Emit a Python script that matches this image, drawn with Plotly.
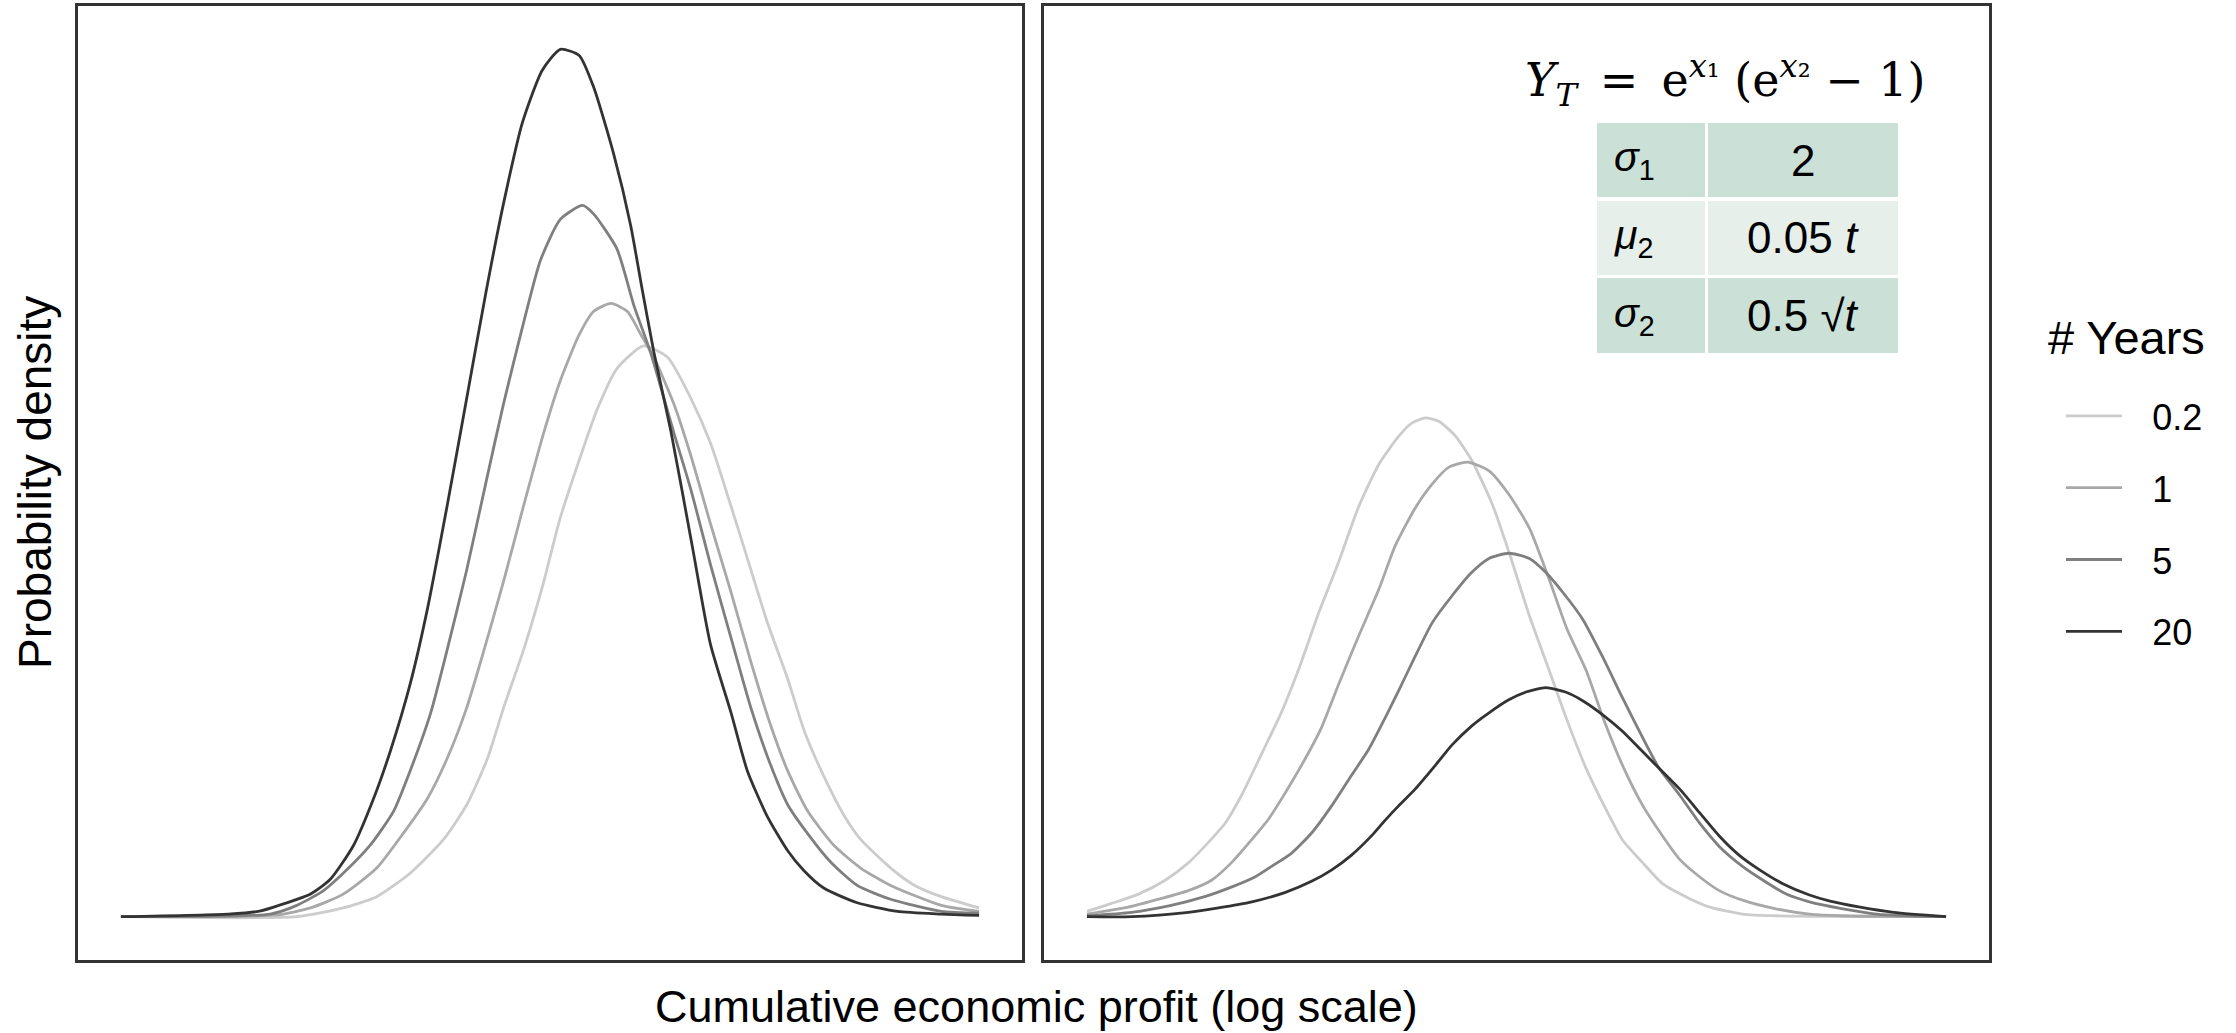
import plotly.graph_objects as go

W, H = 2236, 1033

YEARS = ["0.2", "1", "5", "20"]
COLORS = ["#cccccc", "#a8a8a8", "#7f7f7f", "#333333"]

# ---- Left panel (log-profit position, density) ----
L_X_02 = [0, 20.5, 25.9, 29.8, 33.7, 37.6, 40.3, 42.7, 44.6, 46.9, 49.1, 51.2, 53.6, 55.5, 57.8, 60.9,
          63.7, 66.4, 68.7, 71.1, 73.0, 75.3, 77.7, 79.6, 81.9, 84.3, 86.2, 89.7, 92.5, 95.6, 100]
L_Y_02 = [0, 0.0, 0.010, 0.023, 0.050, 0.089, 0.129, 0.182, 0.241, 0.307, 0.380, 0.460, 0.532, 0.585, 0.632, 0.658,
          0.645, 0.598, 0.546, 0.473, 0.413, 0.340, 0.274, 0.215, 0.162, 0.116, 0.089, 0.056, 0.036, 0.023, 0.010]

L_X_1 = [0, 18.2, 22.1, 25.9, 29.8, 32.9, 35.7, 38.0, 40.3, 42.3, 44.6, 46.9, 49.3, 51.2, 53.4, 55.1, 57.1,
         59.0, 60.6, 62.1, 64.4, 66.4, 68.7, 71.1, 73.4, 75.7, 77.7, 80.0, 83.1, 86.2, 89.7, 95.6, 100]
L_Y_1 = [0, 0.002, 0.010, 0.026, 0.056, 0.096, 0.136, 0.182, 0.241, 0.307, 0.387, 0.473, 0.559, 0.618, 0.671, 0.698, 0.707,
         0.698, 0.671, 0.645, 0.592, 0.532, 0.453, 0.374, 0.294, 0.221, 0.168, 0.122, 0.082, 0.056, 0.036, 0.013, 0.006]

L_X_5 = [0, 17.4, 20.5, 23.6, 25.9, 29.1, 31.8, 33.7, 36.1, 38.0, 40.3, 42.5, 44.6, 46.9, 48.9, 51.2, 53.8,
         55.1, 57.8, 59.8, 61.7, 64.4, 66.4, 68.7, 71.1, 73.4, 75.7, 77.7, 80.0, 82.7, 85.8, 89.7, 95.6, 100]
L_Y_5 = [0, 0.003, 0.013, 0.030, 0.050, 0.083, 0.122, 0.168, 0.235, 0.307, 0.400, 0.499, 0.592, 0.684, 0.757, 0.804, 0.820,
         0.810, 0.770, 0.704, 0.651, 0.559, 0.493, 0.406, 0.321, 0.241, 0.175, 0.129, 0.096, 0.063, 0.036, 0.020, 0.006, 0.004]

L_X_20 = [0, 12.5, 16.0, 17.8, 22.1, 24.4, 27.1, 29.4, 31.4, 33.7, 35.7, 38.0, 40.3, 42.5, 44.6, 46.8, 49.1, 51.2,
          53.4, 55.1, 57.4, 59.4, 60.6, 62.1, 64.1, 66.6, 68.7, 71.1, 73.0, 75.3, 77.7, 79.6, 81.9, 85.8, 90.5, 95.6, 100]
L_Y_20 = [0, 0.003, 0.006, 0.011, 0.026, 0.043, 0.082, 0.135, 0.191, 0.268, 0.354, 0.473, 0.598, 0.718, 0.823, 0.916, 0.976, 1.0,
          0.993, 0.956, 0.880, 0.797, 0.731, 0.651, 0.559, 0.426, 0.314, 0.235, 0.168, 0.116, 0.076, 0.053, 0.033, 0.016, 0.006, 0.003, 0.0015]

# ---- Right panel ----
R_X_02 = [0, 2.8, 6.0, 9.1, 11.8, 13.7, 16.1, 18.0, 20.3, 22.7, 24.6, 27.0, 29.3, 31.6, 34.0, 36.3, 37.8, 39.4,
          41.0, 42.9, 44.8, 47.2, 49.1, 51.5, 53.8, 55.9, 58.1, 60.4, 62.3, 64.7, 67.0, 70.1, 72.5, 76.3, 80.2, 100]
R_Y_02 = [0.006, 0.015, 0.026, 0.042, 0.062, 0.081, 0.108, 0.140, 0.187, 0.237, 0.284, 0.351, 0.409, 0.472, 0.522, 0.554, 0.569, 0.575,
          0.571, 0.554, 0.526, 0.475, 0.421, 0.347, 0.284, 0.226, 0.171, 0.124, 0.089, 0.062, 0.038, 0.021, 0.011, 0.003, 0.001, 0.0]

R_X_1 = [0, 4.8, 8.7, 11.8, 14.5, 16.8, 19.2, 21.1, 23.1, 25.4, 27.3, 29.3, 31.6, 34.0, 35.9, 38.2, 40.2, 42.1, 44.3,
         46.8, 49.1, 51.5, 53.8, 55.9, 58.1, 60.2, 62.5, 64.7, 67.0, 69.0, 71.3, 73.6, 76.3, 80.2, 84.1, 88.0, 100]
R_Y_1 = [0.003, 0.011, 0.021, 0.030, 0.042, 0.062, 0.089, 0.112, 0.143, 0.182, 0.218, 0.268, 0.323, 0.378, 0.428, 0.471, 0.499, 0.518, 0.524,
         0.514, 0.487, 0.448, 0.389, 0.331, 0.284, 0.226, 0.171, 0.128, 0.093, 0.066, 0.046, 0.030, 0.019, 0.009, 0.003, 0.001, 0.0]

R_X_5 = [0, 5.2, 9.8, 13.7, 16.8, 19.6, 21.5, 23.8, 26.2, 28.5, 30.8, 32.8, 34.7, 36.3, 38.2, 40.2, 42.5, 44.8, 46.8, 49.1,
         51.5, 53.4, 55.7, 57.7, 60.0, 62.3, 64.7, 66.6, 69.0, 71.3, 73.6, 76.3, 78.7, 81.4, 84.1, 88.0, 91.9, 95.8, 100]
R_Y_5 = [0.001, 0.005, 0.013, 0.023, 0.034, 0.046, 0.058, 0.073, 0.097, 0.128, 0.163, 0.193, 0.229, 0.261, 0.300, 0.339, 0.370, 0.397, 0.413, 0.419,
         0.413, 0.397, 0.370, 0.343, 0.300, 0.253, 0.206, 0.171, 0.140, 0.108, 0.081, 0.058, 0.042, 0.026, 0.017, 0.009, 0.003, 0.001, 0.0]

R_X_20 = [0, 5.2, 11.8, 15.3, 19.2, 23.1, 26.2, 28.5, 30.8, 33.2, 34.7, 36.3, 38.2, 40.6, 42.5, 44.8, 46.8, 49.1, 51.1,
          53.4, 55.7, 57.7, 60.0, 62.3, 64.7, 66.6, 69.0, 71.3, 73.6, 75.9, 78.3, 81.0, 84.1, 86.5, 90.0, 93.9, 100]
R_Y_20 = [0, 0.0, 0.005, 0.010, 0.017, 0.028, 0.041, 0.054, 0.071, 0.094, 0.111, 0.128, 0.147, 0.175, 0.198, 0.220, 0.235, 0.250, 0.259,
          0.264, 0.259, 0.249, 0.233, 0.214, 0.190, 0.171, 0.147, 0.120, 0.093, 0.071, 0.054, 0.038, 0.025, 0.018, 0.011, 0.005, 0.0]

LEFT = [(L_X_02, L_Y_02), (L_X_1, L_Y_1), (L_X_5, L_Y_5), (L_X_20, L_Y_20)]
RIGHT = [(R_X_02, R_Y_02), (R_X_1, R_Y_1), (R_X_5, R_Y_5), (R_X_20, R_Y_20)]

# inset table
FORMULA = ("<i>Y</i><sub><i>T</i></sub>\u2002=\u2002e<sup><i>x</i>\u2081</sup> "
           "(e<sup><i>x</i>\u2082</sup> \u2212 1)")
PARAM_NAMES = ["<i>σ</i><sub>1</sub>", "<i>μ</i><sub>2</sub>", "<i>σ</i><sub>2</sub>"]
PARAM_VALUES = ["2", "0.05 <i>t</i>", "0.5 \u221a<i>t</i>"]
ROW_FILLS = ["#cbe0d6", "#e6efea", "#cbe0d6"]

LEGEND_TITLE = "# Years"
X_TITLE = "Cumulative economic profit (log scale)"
Y_TITLE = "Probability density"


def px(x):
    return x / W


def py(y):
    return 1 - y / H


fig = go.Figure()
for i, (yr, col) in enumerate(zip(YEARS, COLORS)):
    xl, yl = LEFT[i]
    xr, yr_ = RIGHT[i]
    fig.add_trace(go.Scatter(x=xl, y=yl, mode="lines", name="\u2002\u2009" + yr, legendgroup=yr,
                             line=dict(color=col, width=2.8, shape="spline", smoothing=0.6),
                             xaxis="x", yaxis="y", showlegend=True))
    fig.add_trace(go.Scatter(x=xr, y=yr_, mode="lines", name=yr, legendgroup=yr,
                             line=dict(color=col, width=2.8, shape="spline", smoothing=0.6),
                             xaxis="x2", yaxis="y2", showlegend=False))

ax_common = dict(showgrid=False, zeroline=False, showticklabels=False, ticks="",
                 showline=True, mirror=True, linecolor="#333333", linewidth=2.5)
fig.update_layout(
    width=W, height=H,
    margin=dict(l=0, r=0, t=0, b=0),
    paper_bgcolor="white", plot_bgcolor="white",
    font=dict(family="Liberation Sans, Arial, sans-serif", color="#000000"),
    xaxis=dict(domain=[px(78), px(1022)], range=[-5, 105], anchor="y", **ax_common),
    yaxis=dict(domain=[py(960), py(6)], range=[-0.05, 1.05], anchor="x", **ax_common),
    xaxis2=dict(domain=[px(1044), px(1989)], range=[-5, 105], anchor="y2", **ax_common),
    yaxis2=dict(domain=[py(960), py(6)], range=[-0.05, 1.05], anchor="x2", **ax_common),
    legend=dict(x=px(2061), y=py(386), xanchor="left", yanchor="top",
                font=dict(size=36), tracegroupgap=22, itemwidth=56,
                bgcolor="rgba(0,0,0,0)"),
)

ann = []
ann.append(dict(text=LEGEND_TITLE, x=px(2046), y=py(337), xref="paper", yref="paper",
                showarrow=False, xanchor="left", yanchor="middle", font=dict(size=47)))
ann.append(dict(text=X_TITLE, x=px(1036), y=py(1006), xref="paper", yref="paper",
                showarrow=False, xanchor="center", yanchor="middle", font=dict(size=45)))
ann.append(dict(text=Y_TITLE, x=px(35), y=py(483), xref="paper", yref="paper", textangle=-90,
                showarrow=False, xanchor="center", yanchor="middle", font=dict(size=46)))
ann.append(dict(text=FORMULA, x=px(1725), y=py(80), xref="paper", yref="paper",
                showarrow=False, xanchor="center", yanchor="middle",
                font=dict(size=46, family="DejaVu Serif, Liberation Serif, serif")))

shapes = []
row_tops = [123, 201, 278]
row_bots = [197, 275, 353]
for k in range(3):
    for (x0, x1) in [(1597, 1705), (1708, 1898)]:
        shapes.append(dict(type="rect", xref="paper", yref="paper",
                           x0=px(x0), x1=px(x1), y0=py(row_bots[k]), y1=py(row_tops[k]),
                           fillcolor=ROW_FILLS[k], line=dict(width=0), layer="above"))
    yc = (row_tops[k] + row_bots[k]) / 2
    ann.append(dict(text=PARAM_NAMES[k], x=px(1612), y=py(yc), xref="paper", yref="paper",
                    showarrow=False, xanchor="left", yanchor="middle", font=dict(size=41)))
    ann.append(dict(text=PARAM_VALUES[k], x=px(1803), y=py(yc), xref="paper", yref="paper",
                    showarrow=False, xanchor="center", yanchor="middle", font=dict(size=44)))

fig.update_layout(annotations=ann, shapes=shapes)
fig.write_html("out.html")
